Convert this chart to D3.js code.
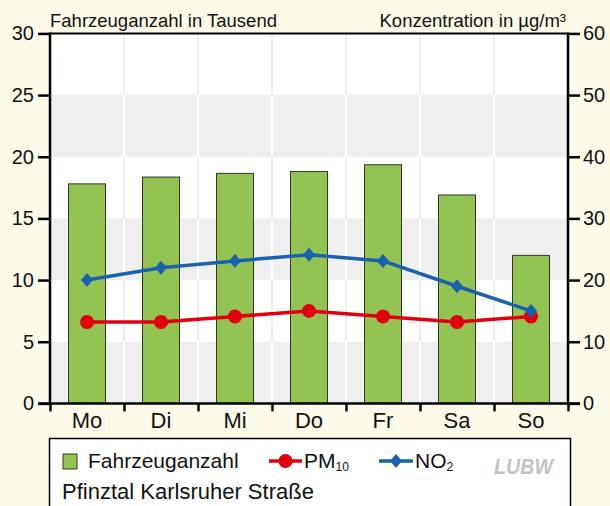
<!DOCTYPE html>
<html>
<head>
<meta charset="utf-8">
<script src="https://cdn.jsdelivr.net/npm/d3@7"></script>
<style>
  body { margin: 0; background: #fffbea; }
  svg { display: block; font-family: "Liberation Sans", Arial, sans-serif; }
</style>
</head>
<body>
<svg id="chart"></svg>
<script>
// Data
var days = ["Mo", "Di", "Mi", "Do", "Fr", "Sa", "So"];
var vehicles = [17.8, 18.35, 18.65, 18.8, 19.35, 16.9, 12.0];   // in thousand
var pm10 = [13.2, 13.2, 14.1, 15.0, 14.1, 13.2, 14.1];         // µg/m³
var no2 = [20.0, 22.0, 23.1, 24.1, 23.1, 19.0, 15.0];          // µg/m³
var leftTicks = [0, 5, 10, 15, 20, 25, 30];
var rightTicks = [0, 10, 20, 30, 40, 50, 60];

var W = 610, H = 506;
var plotL = 50, plotR = 568, plotT = 33.4, plotB = 403.4;

var svg = d3.select("#chart").attr("width", W).attr("height", H);

var x = d3.scaleBand().domain(days).range([plotL, plotR]);
var yL = d3.scaleLinear().domain([0, 30]).range([plotB, plotT]);
var yR = d3.scaleLinear().domain([0, 60]).range([plotB, plotT]);

// plot background with alternating bands
var bands = d3.range(0, 30, 5);
svg.selectAll("rect.band")
    .data(bands)
    .join("rect")
    .attr("x", plotL).attr("width", plotR - plotL)
    .attr("y", d => yL(d + 5))
    .attr("height", d => yL(d) - yL(d + 5))
    .attr("fill", d => (d / 5) % 2 === 0 ? "#efefef" : "#ffffff");

// vertical grid lines, white on grey bands and grey on white bands
var bounds = days.slice(1).map(d => x(d));
bands.forEach(function (b) {
    var grey = (b / 5) % 2 === 0;
    svg.selectAll(null)
        .data(bounds)
        .join("line")
        .attr("x1", d => d).attr("x2", d => d)
        .attr("y1", yL(b + 5)).attr("y2", yL(b))
        .attr("stroke", grey ? "#ffffff" : "#efefef")
        .attr("stroke-width", 2);
});

// bars
var bw = x.bandwidth() * 0.5;
svg.selectAll("rect.bar")
    .data(vehicles)
    .join("rect")
    .attr("class", "bar")
    .attr("x", (d, i) => x(days[i]) + (x.bandwidth() - bw) / 2)
    .attr("y", d => yL(d))
    .attr("width", bw)
    .attr("height", d => plotB - yL(d))
    .attr("fill", "#92c353")
    .attr("stroke", "#2f3a22")
    .attr("stroke-width", 1);

var cx = (d, i) => x(days[i]) + x.bandwidth() / 2;

// lines
var line = d3.line().x((d, i) => cx(d, i)).y(d => yR(d));
svg.append("path").datum(pm10)
    .attr("d", line).attr("fill", "none")
    .attr("stroke", "#e3000f").attr("stroke-width", 3.5);
svg.append("path").datum(no2)
    .attr("d", line).attr("fill", "none")
    .attr("stroke", "#1a62ae").attr("stroke-width", 3.5);

svg.selectAll("circle.pm")
    .data(pm10)
    .join("circle")
    .attr("cx", cx).attr("cy", d => yR(d))
    .attr("r", 7)
    .attr("fill", "#e3000f");

var diamond = "M0,-7L6,0L0,7L-6,0Z";
svg.selectAll("path.no2")
    .data(no2)
    .join("path")
    .attr("d", diamond)
    .attr("transform", (d, i) => `translate(${cx(d, i)},${yR(d)})`)
    .attr("fill", "#1a62ae");

// axes frame
svg.append("line").attr("x1", plotL).attr("x2", plotR).attr("y1", plotT).attr("y2", plotT)
    .attr("stroke", "#000").attr("stroke-width", 2);
svg.append("line").attr("x1", plotL).attr("x2", plotL).attr("y1", plotT - 1).attr("y2", plotB)
    .attr("stroke", "#000").attr("stroke-width", 2.5);
svg.append("line").attr("x1", plotR).attr("x2", plotR).attr("y1", plotT - 1).attr("y2", plotB)
    .attr("stroke", "#000").attr("stroke-width", 2.5);

// left axis
var axL = svg.append("g")
    .attr("transform", `translate(${plotL},0)`)
    .call(d3.axisLeft(yL).tickValues(leftTicks).tickSize(12).tickPadding(4));
// right axis
var axR = svg.append("g")
    .attr("transform", `translate(${plotR},0)`)
    .call(d3.axisRight(yR).tickValues(rightTicks).tickSize(12).tickPadding(3));
// bottom axis: ticks at category boundaries
var xb = d3.scaleLinear().domain([0, 7]).range([plotL, plotR]);
var axB = svg.append("g")
    .attr("transform", `translate(0,${plotB})`)
    .call(d3.axisBottom(xb).ticks(7).tickSize(8).tickFormat(""));

[axL, axR, axB].forEach(function (g) {
    g.select(".domain").remove();
    g.selectAll(".tick line").attr("stroke", "#000").attr("stroke-width", 2.5);
    g.selectAll("text").attr("fill", "#111")
        .style("font-family", "'Liberation Sans', Arial, sans-serif")
        .style("font-size", "20px");
});

// x baseline, extends to the outer ticks
svg.append("line").attr("x1", plotL - 12).attr("x2", plotR + 12)
    .attr("y1", plotB).attr("y2", plotB)
    .attr("stroke", "#000").attr("stroke-width", 2.5);

// category labels
svg.selectAll("text.day")
    .data(days)
    .join("text")
    .attr("x", d => x(d) + x.bandwidth() / 2)
    .attr("y", 428)
    .attr("text-anchor", "middle")
    .attr("font-size", 22)
    .attr("fill", "#111")
    .text(d => d);

// axis titles
svg.append("text").attr("x", plotL).attr("y", 26.5)
    .attr("font-size", 18.5).attr("fill", "#111")
    .text("Fahrzeuganzahl in Tausend");
svg.append("text").attr("x", plotR - 2).attr("y", 26.5)
    .attr("text-anchor", "end")
    .attr("font-size", 18.5).attr("fill", "#111")
    .text("Konzentration in µg/m³");

// legend box
svg.append("rect")
    .attr("x", 49.5).attr("y", 438.5)
    .attr("width", 521).attr("height", 90)
    .attr("fill", "#fff").attr("stroke", "#000").attr("stroke-width", 1.5);

svg.append("rect")
    .attr("x", 63).attr("y", 454).attr("width", 14).attr("height", 15)
    .attr("fill", "#92c353").attr("stroke", "#2f3a22").attr("stroke-width", 1);
svg.append("text").attr("x", 88).attr("y", 468)
    .attr("font-size", 21).attr("fill", "#111").text("Fahrzeuganzahl");

svg.append("line").attr("x1", 269).attr("x2", 302).attr("y1", 461).attr("y2", 461)
    .attr("stroke", "#e3000f").attr("stroke-width", 3.5);
svg.append("circle").attr("cx", 285.5).attr("cy", 461).attr("r", 7).attr("fill", "#e3000f");
var pmT = svg.append("text").attr("x", 304).attr("y", 468)
    .attr("font-size", 21).attr("fill", "#111");
pmT.append("tspan").text("PM");
pmT.append("tspan").attr("font-size", 12).attr("dy", 3).text("10");

svg.append("line").attr("x1", 379).attr("x2", 413).attr("y1", 461).attr("y2", 461)
    .attr("stroke", "#1a62ae").attr("stroke-width", 3.5);
svg.append("path").attr("d", diamond)
    .attr("transform", "translate(396,461)").attr("fill", "#1a62ae");
var noT = svg.append("text").attr("x", 415).attr("y", 468)
    .attr("font-size", 21).attr("fill", "#111");
noT.append("tspan").text("NO");
noT.append("tspan").attr("font-size", 12).attr("dy", 3).text("2");

svg.append("text").attr("x", 494).attr("y", 474)
    .attr("font-size", 22).attr("font-weight", "bold").attr("font-style", "italic")
    .attr("fill", "#c4c4c4").attr("textLength", 59).attr("lengthAdjust", "spacingAndGlyphs")
    .text("LUBW");

svg.append("text").attr("x", 62).attr("y", 499)
    .attr("font-size", 22).attr("fill", "#111")
    .text("Pfinztal Karlsruher Straße");
</script>
</body>
</html>
